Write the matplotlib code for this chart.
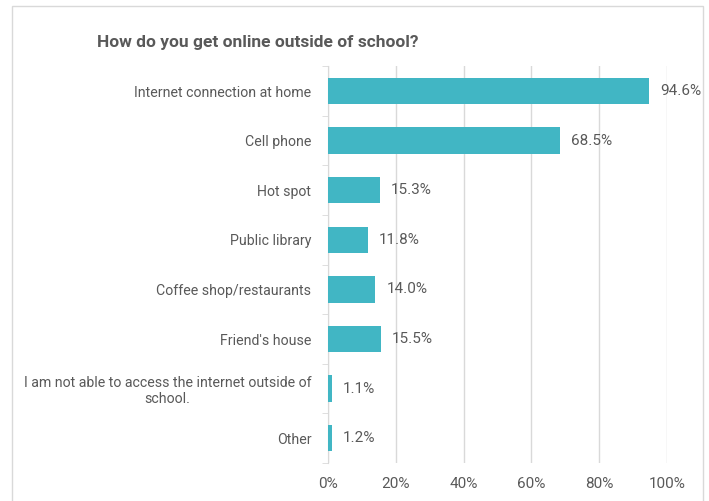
import matplotlib.pyplot as plt
from matplotlib.patches import Rectangle
from matplotlib.ticker import PercentFormatter

categories = ["Internet connection at home", "Cell phone", "Hot spot", "Public library",
              "Coffee shop/restaurants", "Friend's house",
              "I am not able to access the internet outside of\nschool.", "Other"]
values = [94.6, 68.5, 15.3, 11.8, 14.0, 15.5, 1.1, 1.2]
xticks = [0, 20, 40, 60, 80, 100]

bar_color = "#41B6C4"
text_color = "#595959"
grid_color = "#D9D9D9"

plt.rcParams['font.family'] = ['Roboto', 'DejaVu Sans']

fig = plt.figure(figsize=(7.09, 5.01), dpi=100)
ax = fig.add_axes([0.4626, 0.0758, 0.4782, 0.792])

y = list(range(len(categories)))
ax.barh(y, values, height=0.53, color=bar_color, zorder=3)
for yi, v in zip(y, values):
    ax.annotate(f"{v:.1f}%", (v, yi), xytext=(8, 0), textcoords="offset points",
                va="center", ha="left", fontsize=11, color=text_color)

ax.set_xlim(0, 100)
ax.set_ylim(len(categories) - 0.5, -0.5)
ax.set_xticks(xticks)
ax.xaxis.set_major_formatter(PercentFormatter(decimals=0))
ax.set_yticks(y)
ax.set_yticklabels(categories, fontsize=10.2, color=text_color, ha="right",
                   multialignment="center")
ax.set_yticks([i - 0.5 for i in range(len(categories) + 1)], minor=True)
ax.tick_params(axis="y", which="major", length=0, pad=12)
ax.tick_params(axis="y", which="minor", length=4, color=grid_color)
ax.tick_params(axis="x", length=0, labelsize=11, labelcolor=text_color, pad=10)
ax.grid(axis="x", color=grid_color, linewidth=1, zorder=0)
for s in ["top", "right", "bottom"]:
    ax.spines[s].set_visible(False)
ax.spines["left"].set_color(grid_color)

fig.text(97 / 709, 1 - 42 / 501, "How do you get online outside of school?", fontsize=12.5,
         fontweight="bold", color=text_color, va="center", ha="left")

fig.patches.append(Rectangle((12 / 709, -0.01), (703 - 12) / 709, 1 - 6 / 501 + 0.01,
                             transform=fig.transFigure, fill=False, edgecolor=grid_color,
                             linewidth=1))

fig.savefig("out.png", dpi=100)
